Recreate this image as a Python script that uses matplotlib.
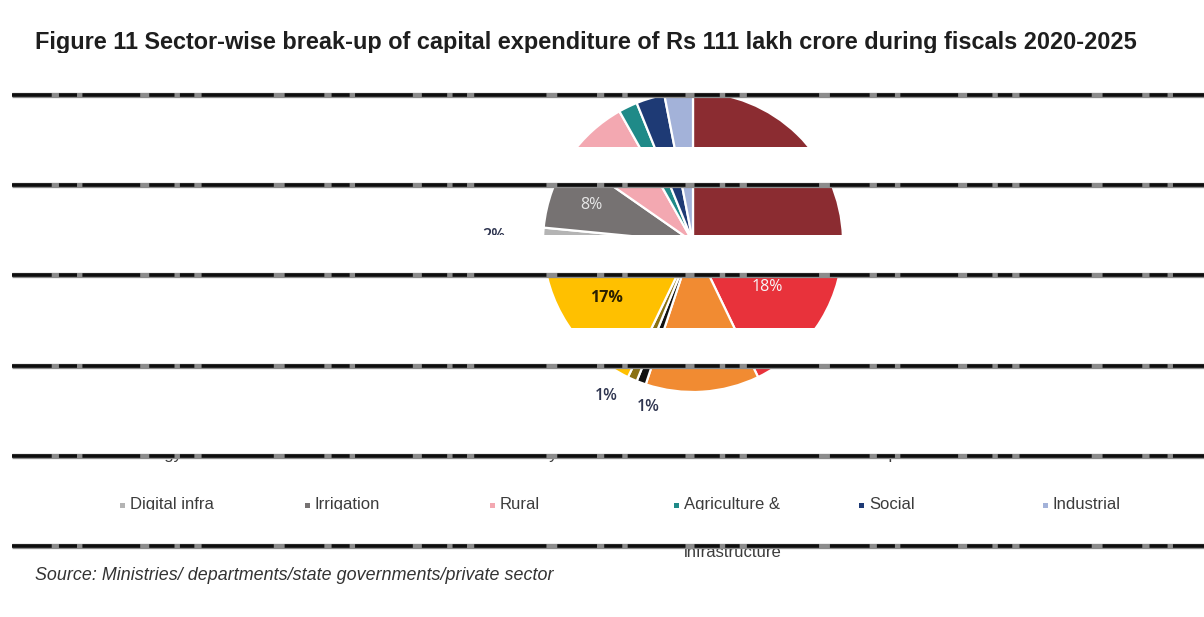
import matplotlib
matplotlib.use("Agg")
import matplotlib.pyplot as plt
from matplotlib import font_manager
from matplotlib.patches import Rectangle
import numpy as np

# ---- data -------------------------------------------------------------
sectors = ["Energy", "Roads", "Railways", "Ports", "Airports", "Urban",
           "Digital infra", "Irrigation", "Rural",
           "Agriculture &\nfood processing\ninfrastructure", "Social", "Industrial"]
shares = [24, 18, 12, 1, 1, 17, 2, 8, 7, 2, 3, 3]
colors = ["#8B2C31", "#E8323B", "#F18B32", "#111111", "#8A7114", "#FFC000",
          "#B4B4B4", "#767272", "#F3A8B1", "#1F8A88", "#1E3A75", "#A3B2D9"]

title = ("Figure 11 Sector-wise break-up of capital expenditure of Rs 111 lakh crore "
         "during fiscals 2020-2025")
source = "Source: Ministries/ departments/state governments/private sector"

# ---- label styling per wedge: (radius, clockwise shift in deg, colour, weight)
label_style = [(0.65, 0, "white", "normal"), (0.58, 0, "#F7F7F7", "normal"),
               (0.65, 0, "white", "normal"), (1.14, -5, "#2F3550", "semibold"),
               (1.18, 5.5, "#2F3550", "semibold"), (0.69, 0, "#2B2100", "bold"),
               (1.33, 0, "#2F3550", "semibold"), (0.72, 0, "#E6E6E6", "normal"),
               (0.68, 0, "#3A3A3A", "normal"), (1.15, -4, "#2F3550", "semibold"),
               (1.15, 0, "#2F3550", "semibold"), (1.15, 3, "#2F3550", "semibold")]

avail = {f.name for f in font_manager.fontManager.ttflist}
narrow = "Liberation Sans Narrow" if "Liberation Sans Narrow" in avail else "Liberation Sans"

W, H = 1204, 617
fig = plt.figure(figsize=(W / 100, H / 100), dpi=100)
fig.patch.set_facecolor("white")

# ---- pie --------------------------------------------------------------
cx, cy, r = 693, 242, 150
ax = fig.add_axes([(cx - r) / W, (H - cy - r) / H, 2 * r / W, 2 * r / H])
wedges, _ = ax.pie(shares, colors=colors, startangle=90, counterclock=False,
                   wedgeprops=dict(edgecolor="white", linewidth=1.6))
ax.set_xlim(-1, 1)
ax.set_ylim(-1, 1)
ax.set_aspect("equal")
ax.axis("off")

total = sum(shares)
for w, v, (rad, shift, col, wt) in zip(wedges, shares, label_style):
    mid = np.deg2rad((w.theta1 + w.theta2) / 2 - shift)
    ax.text(rad * np.cos(mid), rad * np.sin(mid), f"{round(100 * v / total)}%",
            ha="center", va="center", color=col, fontsize=11.5,
            family="Open Sans", fontweight=wt, clip_on=False)

# ---- overlay in pixel coordinates -------------------------------------
ov = fig.add_axes([0, 0, 1, 1], zorder=5)
ov.set_xlim(0, W)
ov.set_ylim(H, 0)
ov.axis("off")
ov.patch.set_alpha(0)

renderer = fig.canvas.get_renderer()


def fitted_text(x, y, s, width, size, **kw):
    t = ov.text(x, y, s, fontsize=size, **kw)
    wpx = t.get_window_extent(renderer).width
    t.set_fontsize(size * width / wpx)
    return t


fitted_text(35, 42, title, 1105, 14, fontweight="bold", family="Liberation Sans",
            color="#1E1E1E", ha="left", va="center")
fitted_text(35, 575, source, 515, 11, style="italic", family=narrow,
            color="#333333", ha="left", va="center")

# legend: six columns, two rows
col_x = [122, 307, 492, 676, 861, 1045]
row_y = [454.5, 505]
for i, (name, c) in enumerate(zip(sectors, colors)):
    x, y = col_x[i % 6], row_y[i // 6]
    ov.add_patch(Rectangle((x - 2.5, y - 2.5), 5, 5, facecolor=c, edgecolor="none", zorder=3))
    ov.text(x + 8, y - 8, name, family=narrow, fontsize=12, color="#3C3C3C",
            ha="left", va="top", linespacing=1.75, zorder=3)

# horizontal scan bands across the page
bands = [(53, 93), (147, 183), (235, 273), (328, 364), (419, 454), (510, 544)]
for y0, y1 in bands:
    ov.add_patch(Rectangle((0, y0), W, y1 - y0, facecolor="white", edgecolor="none", zorder=10))
for y in [95, 185, 275, 366, 456, 546]:
    ov.plot([12, W], [y, y], color="#8C8C8C", lw=3.8, solid_capstyle="butt", zorder=11)
    ov.plot([12, W], [y, y], color="#0E0E0E", lw=2.6,
            dashes=[11, 2, 5, 1.5, 16, 2.5, 7, 1.5, 4, 2, 20, 3],
            zorder=12)

fig.savefig("out.png", dpi=100, facecolor="white")
